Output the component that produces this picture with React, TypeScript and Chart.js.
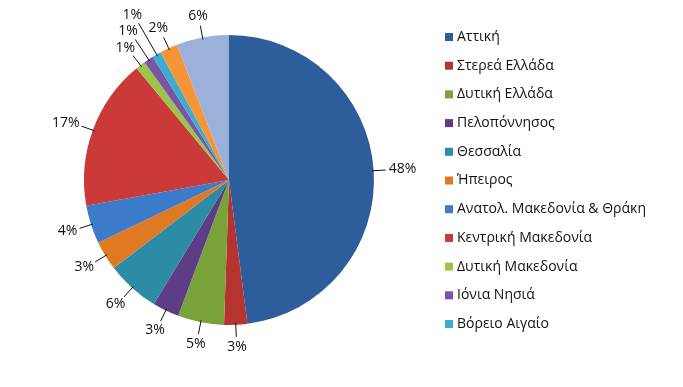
import React, { useEffect, useRef } from "react";
import { Chart, registerables } from "chart.js";

Chart.register(...registerables);

const regions = [
  "Αττική",
  "Στερεά Ελλάδα",
  "Δυτική Ελλάδα",
  "Πελοπόννησος",
  "Θεσσαλία",
  "Ήπειρος",
  "Ανατολ. Μακεδονία & Θράκη",
  "Κεντρική Μακεδονία",
  "Δυτική Μακεδονία",
  "Ιόνια Νησιά",
  "Βόρειο Αιγαίο",
  "Νότιο Αιγαίο",
  "Κρήτη",
];
const shares = [48.4, 2.6, 5.2, 3, 6, 3.3, 4.3, 17, 1.1, 1.1, 1, 2, 5.9];
const percentLabels = ["48%", "3%", "5%", "3%", "6%", "3%", "4%", "17%", "1%", "1%", "1%", "2%", "6%"];
const legendCount = 11;
const colors = [
  "#2E5D9C", "#B53330", "#78A23A", "#5D3D85", "#2C8BA5", "#E07A22",
  "#3C7ACA", "#C93A39", "#9BC44B", "#7B55A5", "#3BADD3", "#F69535", "#9BB1D9",
];

const FONT = "14px 'Open Sans', 'Noto Sans', sans-serif";

const labelPlugin = {
  id: "outerLabels",
  afterDatasetsDraw(chart: any) {
    const ctx = chart.ctx;
    const meta = chart.getDatasetMeta(0);
    const placed: { x0: number; y0: number; x1: number; y1: number }[] = [];
    ctx.save();
    ctx.font = FONT;
    ctx.fillStyle = "#111";
    ctx.strokeStyle = "#111";
    ctx.lineWidth = 1;
    ctx.textBaseline = "middle";
    ctx.textAlign = "center";
    meta.data.forEach((arc: any, i: number) => {
      const { x, y, startAngle, endAngle, outerRadius } = arc.getProps(
        ["x", "y", "startAngle", "endAngle", "outerRadius"], true);
      const mid = (startAngle + endAngle) / 2;
      const dx = Math.cos(mid), dy = Math.sin(mid);
      const text = percentLabels[i];
      const w = ctx.measureText(text).width;
      const h = 14;
      let d = 14;
      let box: any;
      let lx = 0, ly = 0;
      for (let k = 0; k < 20; k++) {
        lx = x + dx * (outerRadius + d) + dx * (w / 2 + 1);
        ly = y + dy * (outerRadius + d) + dy * (h / 2 + 1);
        box = { x0: lx - w / 2 - 1, x1: lx + w / 2 + 1, y0: ly - h / 2, y1: ly + h / 2 };
        const hit = placed.some(
          (p) => !(box.x1 < p.x0 || box.x0 > p.x1 || box.y1 < p.y0 || box.y0 > p.y1));
        if (!hit) break;
        d += 6;
      }
      placed.push(box);
      ctx.beginPath();
      ctx.moveTo(x + dx * (outerRadius - 2), y + dy * (outerRadius - 2));
      ctx.lineTo(x + dx * (outerRadius + d - 2), y + dy * (outerRadius + d - 2));
      ctx.stroke();
      ctx.fillText(text, lx, ly);
    });
    ctx.restore();
  },
};

const legendPlugin = {
  id: "sideLegend",
  afterDraw(chart: any) {
    const ctx = chart.ctx;
    ctx.save();
    ctx.font = FONT;
    ctx.textBaseline = "middle";
    ctx.textAlign = "left";
    for (let i = 0; i < legendCount; i++) {
      const yy = 37 + i * 28.7;
      ctx.fillStyle = colors[i];
      ctx.fillRect(445, yy - 4, 8, 8);
      ctx.fillStyle = "#111";
      ctx.fillText(regions[i], 457, yy);
    }
    ctx.restore();
  },
};

export default function App() {
  const ref = useRef<HTMLCanvasElement>(null);
  useEffect(() => {
    if (!ref.current) return;
    const chart = new Chart(ref.current, {
      type: "pie",
      data: {
        labels: regions,
        datasets: [
          {
            data: shares,
            backgroundColor: colors,
            borderWidth: 0,
            hoverOffset: 0,
          },
        ],
      },
      options: {
        animation: false,
        responsive: false,
        radius: 145,
        layout: { padding: { left: 60, right: 285, top: 20, bottom: 47 } },
        plugins: {
          legend: { display: false },
          tooltip: { enabled: false },
        },
      },
      plugins: [labelPlugin, legendPlugin],
    } as any);
    return () => chart.destroy();
  }, []);
  return (
    <div style={{ position: "fixed", left: 0, top: 0, width: 683, height: 387, background: "#fff" }}>
      <canvas ref={ref} width={683} height={387} style={{ width: 683, height: 387 }} />
    </div>
  );
}
